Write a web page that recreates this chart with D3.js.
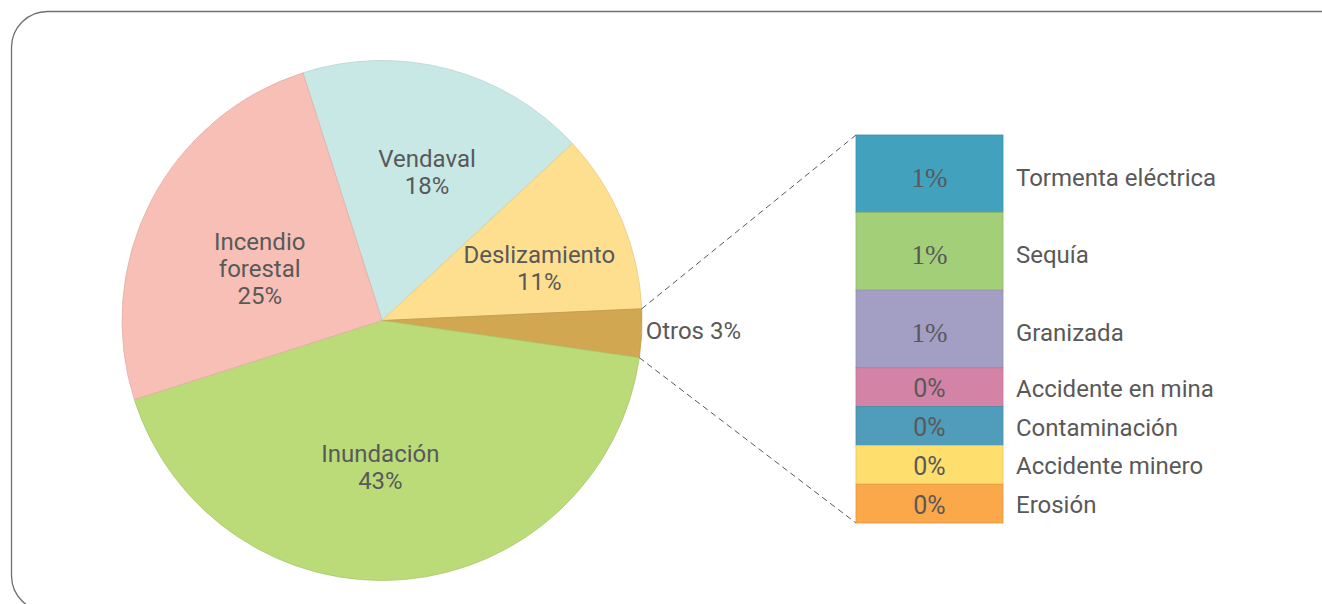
<!DOCTYPE html>
<html>
<head>
<meta charset="utf-8">
<script src="https://cdn.jsdelivr.net/npm/d3@7"></script>
<style>
    body { margin: 0; background: #fff; }
    svg { display: block; font-family: Roboto, "Open Sans", sans-serif; }
</style>
</head>
<body>
<div id="chart"></div>
<script>
// Main pie slices (percent), clockwise from the Vendaval slice
const pieNames = ["Vendaval", "Deslizamiento", "Otros", "Inundación", "Incendio forestal"];
const pieValues = [18, 11.2, 3, 42.8, 25];
const pieColors = ["#c8e8e5", "#fedf90", "#d2a752", "#badb78", "#f8bfb6"];

// Breakdown of "Otros" (percent)
const otherNames = ["Tormenta eléctrica", "Sequía", "Granizada", "Accidente en mina",
    "Contaminación", "Accidente minero", "Erosión"];
const otherValues = [0.6, 0.6, 0.6, 0.3, 0.3, 0.3, 0.3];
const otherColors = ["#42a1bd", "#a3cf78", "#a39ec4", "#d283a6", "#509cbb", "#fede6d", "#fba84a"];

const W = 1322, H = 604;
const textColor = "#595959";

const svg = d3.select("#chart").append("svg")
    .attr("width", W)
    .attr("height", H);

// Rounded frame (runs off the right and bottom edges)
svg.append("rect")
    .attr("x", 11.5).attr("y", 11.5)
    .attr("width", 1360).attr("height", 600)
    .attr("rx", 36).attr("ry", 36)
    .attr("fill", "none")
    .attr("stroke", "#6f6f6f")
    .attr("stroke-width", 1.3);

// Pie
const cx = 382, cy = 320.5, radius = 260;
const startAngle = -17.7 * Math.PI / 180;

const pieData = pieNames.map((name, i) => ({ name, value: pieValues[i], color: pieColors[i] }));
const arcs = d3.pie()
    .sort(null)
    .value(d => d.value)
    .startAngle(startAngle)
    .endAngle(startAngle + 2 * Math.PI)(pieData);

const arc = d3.arc().innerRadius(0).outerRadius(radius);
const labelArc = d3.arc().innerRadius(150).outerRadius(150);

const pieG = svg.append("g").attr("transform", `translate(${cx},${cy})`);

pieG.selectAll("path.slice")
    .data(arcs)
    .join("path")
    .attr("class", "slice")
    .attr("d", arc)
    .attr("fill", d => d.data.color)
    .attr("stroke", d => d3.color(d.data.color).darker(0.25))
    .attr("stroke-width", 0.8);

// Label placement nudges (Excel best-fit style)
const nudge = {
    "Vendaval": [7, -3],
    "Deslizamiento": [19, 6],
    "Incendio forestal": [11, 17],
    "Inundación": [-14, -3]
};

arcs.forEach(d => {
    const name = d.data.name;
    const pct = Math.round(d.data.value) + "%";
    if (name === "Otros") {
        const a = d.startAngle + (d.endAngle - d.startAngle) / 2;
        const px = Math.sin(a) * radius + 4;
        const py = -Math.cos(a) * radius;
        pieG.append("text")
            .attr("x", px).attr("y", py)
            .attr("dy", "0.22em")
            .attr("fill", textColor)
            .attr("font-size", "24px")
            .text(`${name} ${pct}`);
        return;
    }
    const [lx, ly] = labelArc.centroid(d);
    const [nx, ny] = nudge[name] || [0, 0];
    const lines = name === "Incendio forestal" ? ["Incendio", "forestal", pct] : [name, pct];
    const lineH = 27;
    const t = pieG.append("text")
        .attr("text-anchor", "middle")
        .attr("fill", textColor)
        .attr("font-size", "24px");
    lines.forEach((ln, i) => {
        t.append("tspan")
            .attr("x", lx + nx)
            .attr("y", ly + ny + (i - (lines.length - 1) / 2) * lineH)
            .attr("dy", "0.35em")
            .text(ln);
    });
});

// Stacked bar for "Otros"
const otros = arcs.find(d => d.data.name === "Otros");
const barX = 856, barW = 147;
const total = d3.sum(otherValues);
const yScale = d3.scaleLinear().domain([0, total]).range([135, 523]);

const stacked = [];
let acc = 0;
otherNames.forEach((name, i) => {
    stacked.push({ name, value: otherValues[i], color: otherColors[i], y0: acc, y1: acc + otherValues[i] });
    acc += otherValues[i];
});

// Dashed connectors from the Otros slice to the bar
const p0 = [cx + Math.sin(otros.startAngle) * radius, cy - Math.cos(otros.startAngle) * radius];
const p1 = [cx + Math.sin(otros.endAngle) * radius, cy - Math.cos(otros.endAngle) * radius];
[[p0, yScale(0)], [p1, yScale(total)]].forEach(([p, by]) => {
    svg.append("line")
        .attr("x1", p[0]).attr("y1", p[1])
        .attr("x2", barX).attr("y2", by)
        .attr("stroke", textColor)
        .attr("stroke-width", 1)
        .attr("stroke-dasharray", "6,4");
});

const barG = svg.append("g");
barG.selectAll("rect")
    .data(stacked)
    .join("rect")
    .attr("x", barX)
    .attr("y", d => yScale(d.y0))
    .attr("width", barW)
    .attr("height", d => yScale(d.y1) - yScale(d.y0))
    .attr("fill", d => d.color)
    .attr("stroke", d => d3.color(d.color).darker(0.3))
    .attr("stroke-width", 0.8);

// Values inside bar ("1%" comes out in a serif face in the original)
barG.selectAll("text.val")
    .data(stacked)
    .join("text")
    .attr("class", "val")
    .attr("x", barX + barW / 2)
    .attr("y", d => (yScale(d.y0) + yScale(d.y1)) / 2)
    .attr("dy", d => Math.round(d.value) >= 1 ? "0.48em" : "0.4em")
    .attr("text-anchor", "middle")
    .attr("fill", textColor)
    .attr("font-size", d => Math.round(d.value) >= 1 ? "27px" : "25px")
    .attr("font-family", d => Math.round(d.value) >= 1 ? "'Liberation Serif', serif" : null)
    .text(d => Math.round(d.value) + "%");

// Category names beside bar
barG.selectAll("text.name")
    .data(stacked)
    .join("text")
    .attr("class", "name")
    .attr("x", barX + barW + 13)
    .attr("y", d => (yScale(d.y0) + yScale(d.y1)) / 2)
    .attr("dy", d => d.value >= 0.5 ? "0.5em" : "0.4em")
    .attr("fill", textColor)
    .attr("font-size", "24px")
    .text(d => d.name);
</script>
</body>
</html>
